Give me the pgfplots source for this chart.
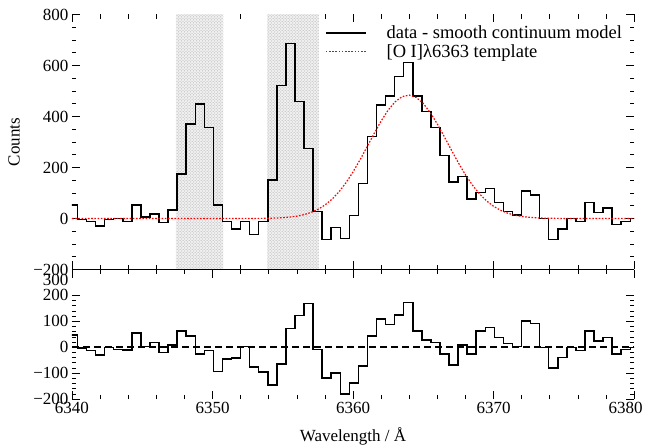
\documentclass[border=0pt]{standalone}
\usepackage{fontspec}
\setmainfont{Liberation Serif}
\usepackage{pgfplots}
\pgfplotsset{compat=1.18}
\usetikzlibrary{patterns}
\newcommand{\ff}{\fontsize{17}{20}\selectfont}
\newcommand{\lf}{\fontsize{18.5}{21}\selectfont}
\begin{document}
\begin{tikzpicture}[font=\ff]
\path[use as bounding box] (-72pt,-48.5pt) rectangle (573pt,399pt);
\pgfplotsset{panel/.style={
  scale only axis, width=562pt,
  xmin=6340, xmax=6380,
  xtick={6340,6350,6360,6370,6380},
  minor x tick num=4,
  axis line style={draw=none},
  tick style={black, line width=0.6pt},
  major tick length=8pt, minor tick length=4.5pt,
  tick align=inside,
  tick label style={font=\ff},
  label style={font=\ff},
}}
% ---------- upper panel ----------
\begin{axis}[panel,
  at={(0pt,129.5pt)}, anchor=south west,
  height=255pt,
  ymin=-200, ymax=800,
  ytick={-200,0,200,400,600,800},
  yticklabels={−200,0,200,400,600,800},
  minor y tick num=3,
  xticklabels={},
  ylabel={Counts},
  ylabel style={at={(axis description cs:-0.103,0.5)}, anchor=center},
  legend style={at={(0.45,0.96)}, anchor=north west, draw=none, fill=none,
    font=\lf, inner sep=0pt, row sep=2pt,
    nodes={inner sep=1pt},
    /tikz/column 1/.style={column sep=19pt}},
  legend cell align=left,
  legend image code/.code={\draw[#1] (0pt,0pt) -- (40pt,0pt);},
]
\addplot[draw=none, fill=gray!12, postaction={pattern=crosshatch dots, pattern color=gray!65}, forget plot]
  coordinates {(6347.4,-200) (6347.4,800) (6350.78,800) (6350.78,-200)} -- cycle;
\addplot[draw=none, fill=gray!12, postaction={pattern=crosshatch dots, pattern color=gray!65}, forget plot]
  coordinates {(6353.9,-200) (6353.9,800) (6357.55,800) (6357.55,-200)} -- cycle;
\addplot[const plot, black, line width=1.5pt] coordinates {
(6339.745,53) (6340.390,-3) (6341.035,-12) (6341.680,-29) (6342.325,-3)
(6342.970,0) (6343.615,-12) (6344.260,53) (6344.905,5) (6345.550,18)
(6346.195,-16) (6346.840,33) (6347.485,175) (6348.130,371) (6348.775,449)
(6349.420,356) (6350.065,53) (6350.710,-12) (6351.355,-42) (6352.000,-12)
(6352.645,-62) (6353.290,-12) (6353.935,151) (6354.580,522) (6355.225,687)
(6355.870,458) (6356.515,275) (6357.160,27) (6357.805,-82) (6358.450,-35)
(6359.095,-79) (6359.740,11) (6360.385,138) (6361.030,321) (6361.675,445)
(6362.320,480) (6362.965,556) (6363.610,611) (6364.255,480) (6364.900,419)
(6365.545,356) (6366.190,248) (6366.835,143) (6367.480,164) (6368.125,76)
(6368.770,101) (6369.415,118) (6370.060,62) (6370.705,27) (6371.350,14)
(6371.995,108) (6372.640,92) (6373.285,0) (6373.930,-82) (6374.575,-41)
(6375.220,0) (6375.865,-12) (6376.510,62) (6377.155,23) (6377.800,42)
(6378.445,-23) (6379.090,-12) (6379.735,0) (6380.380,0)};
\addlegendentry{data - smooth continuum model}
\addplot[red, line width=1.2pt, dash pattern=on 1.6pt off 1.6pt] coordinates {
(6340,0) (6352,0) (6353,0.3) (6353.5,0.5) (6354,1) (6354.5,1.8) (6355,3.2)
(6355.5,5.5) (6356,9.2) (6356.5,14.9) (6357,23.4) (6357.5,35.7) (6358,52.7)
(6358.5,75.3) (6359,104.4) (6359.5,140.2) (6360,182.4) (6360.5,230.0)
(6361,281.1) (6361.5,332.9) (6362,382.0) (6362.5,424.9) (6363,457.8)
(6363.5,478.1) (6364,483.9) (6364.5,474.6) (6365,451.0) (6365.5,415.3)
(6366,370.6) (6366.5,320.6) (6367,268.6) (6367.5,218.2) (6368,171.7)
(6368.5,130.9) (6369,96.8) (6369.5,69.3) (6370,48.1) (6370.5,32.3)
(6371,21.1) (6371.5,13.3) (6372,8.1) (6372.5,4.8) (6373,2.8) (6373.5,1.5)
(6374,0.8) (6375,0.2) (6376,0) (6380,0)};
\addlegendentry{[O I]λ6363 template}
\draw[black, line width=1pt] (rel axis cs:0,0) -- (rel axis cs:1,0);
\end{axis}
% ---------- lower panel ----------
\begin{axis}[panel,
  at={(0pt,0pt)}, anchor=south west,
  height=129.5pt,
  ymin=-200, ymax=300,
  ytick={-200,-100,0,100,200},
  yticklabels={−200,−100,0,100,200},
  extra y ticks={260}, extra y tick labels={300},
  extra y tick style={major tick length=0pt},
  minor y tick num=4,
  xticklabels={6340,6350,6360,6370,\hspace*{-17pt}6380},
  xlabel={Wavelength / Å},
  xlabel style={at={(axis description cs:0.5,-0.29)}, anchor=center},
]
\addplot[const plot, black, line width=1.5pt] coordinates {
(6339.745,47) (6340.390,-4) (6341.035,-13) (6341.680,-30) (6342.325,-2)
(6342.970,-8) (6343.615,-10) (6344.260,54) (6344.905,2) (6345.550,18)
(6346.195,-21) (6346.840,9) (6347.485,63) (6348.130,43) (6348.775,-27)
(6349.420,-13) (6350.065,-94) (6350.710,-46) (6351.355,-42) (6352.000,2)
(6352.645,-77) (6353.290,-96) (6353.935,-145) (6354.580,-65) (6355.225,73)
(6355.870,122) (6356.515,169) (6357.160,-8) (6357.805,-119) (6358.450,-100)
(6359.095,-180) (6359.740,-138) (6360.385,-72) (6361.030,43) (6361.675,108)
(6362.320,88) (6362.965,124) (6363.610,172) (6364.255,63) (6364.900,28)
(6365.545,19) (6366.190,-26) (6366.835,-68) (6367.480,9) (6368.125,-27)
(6368.770,63) (6369.415,77) (6370.060,38) (6370.705,15) (6371.350,2)
(6371.995,102) (6372.640,92) (6373.285,-2) (6373.930,-81) (6374.575,-40)
(6375.220,-2) (6375.865,-13) (6376.510,63) (6377.155,24) (6377.800,38)
(6378.445,-27) (6379.090,-8) (6379.735,-2) (6380.380,-2)};
\addplot[black, line width=1.5pt, dash pattern=on 7pt off 4pt] coordinates {(6340,0) (6380,0)};
\end{axis}
\end{tikzpicture}
\end{document}
